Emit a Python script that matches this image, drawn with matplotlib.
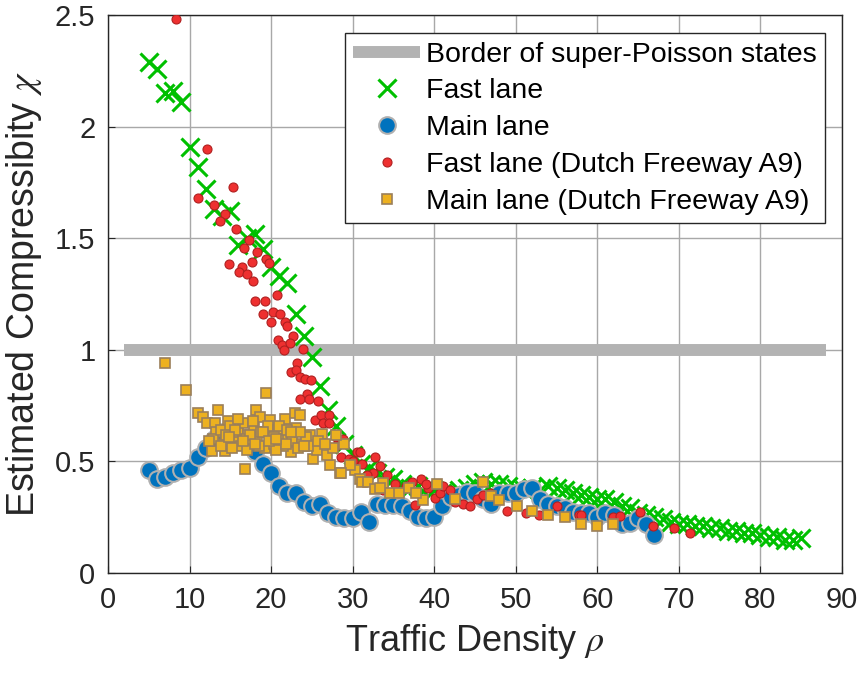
import matplotlib
matplotlib.use('Agg')
import matplotlib.pyplot as plt
from matplotlib.ticker import FormatStrFormatter

plt.rcParams['font.family'] = ['Liberation Sans', 'DejaVu Sans']
plt.rcParams['mathtext.fontset'] = 'stix'

# simulated fast lane
fast_x = list(range(5, 86))
fast_y = [2.29, 2.26, 2.15, 2.16, 2.11, 1.91, 1.82, 1.72, 1.63, 1.60,
          1.62, 1.47, 1.50, 1.52, 1.45, 1.37, 1.33, 1.30, 1.16, 1.06,
          0.97, 0.84, 0.73, 0.66, 0.58, 0.53, 0.49, 0.47, 0.45, 0.43,
          0.42, 0.40, 0.38, 0.39, 0.38, 0.37, 0.36, 0.35, 0.37, 0.38,
          0.40, 0.41, 0.40, 0.40, 0.39, 0.38, 0.37, 0.38, 0.37, 0.39,
          0.38, 0.37, 0.36, 0.35, 0.34, 0.33, 0.33, 0.32, 0.30, 0.29,
          0.27, 0.26, 0.25, 0.24, 0.23, 0.22, 0.22, 0.21, 0.21, 0.20,
          0.20, 0.19, 0.19, 0.18, 0.18, 0.17, 0.16, 0.16, 0.15, 0.15,
          0.155]

# simulated main lane
main_x = list(range(5, 68))
main_y = [0.46, 0.42, 0.43, 0.45, 0.46, 0.47, 0.52, 0.56, 0.60, 0.63,
          0.62, 0.60, 0.58, 0.54, 0.49, 0.45, 0.39, 0.36, 0.36, 0.32,
          0.30, 0.31, 0.27, 0.25, 0.245, 0.245, 0.275, 0.23, 0.31, 0.305,
          0.305, 0.30, 0.28, 0.25, 0.245, 0.25, 0.30, 0.34, 0.35, 0.365,
          0.36, 0.33, 0.31, 0.36, 0.36, 0.36, 0.375, 0.38, 0.33, 0.31,
          0.30, 0.29, 0.275, 0.27, 0.27, 0.25, 0.27, 0.26, 0.22, 0.225,
          0.245, 0.22, 0.17]

# A9 measurements, fast lane
a9_fast_x = [8.3, 12.2, 15.3, 11.0, 13.0, 14.3, 13.7, 15.7, 17.3, 16.7,
             18.3, 14.9, 16.4, 17.6, 19.4, 19.7, 16.1, 17.0, 17.8, 20.7,
             18.0, 19.2, 19.0, 20.2, 21.1, 20.0, 21.7, 22.0, 22.7, 20.9,
             21.3, 21.6, 22.3, 23.9, 23.2, 22.4, 23.0, 23.5, 24.1, 24.9,
             24.4, 23.6, 24.7, 25.7, 25.4, 26.1, 27.1, 26.4, 27.1, 28.0,
             28.8, 28.0, 28.6, 29.5, 30.1, 30.5, 30.9, 31.1, 32.7, 33.3,
             32.5, 31.7, 34.2, 35.2, 33.7, 36.6, 37.6, 38.4, 39.3, 40.1,
             40.7, 41.1, 41.9, 42.5, 43.5, 44.4, 45.2, 46.0, 37.3, 39.0,
             46.8, 48.9, 51.3, 52.9, 55.0, 57.8, 58.0, 61.9, 62.8, 65.2,
             66.8, 69.4, 71.4]
a9_fast_y = [2.48, 1.90, 1.73, 1.68, 1.65, 1.61, 1.575, 1.54, 1.49, 1.455,
             1.44, 1.385, 1.37, 1.395, 1.405, 1.39, 1.35, 1.34, 1.31, 1.245,
             1.22, 1.22, 1.16, 1.17, 1.16, 1.125, 1.125, 1.105, 1.06, 1.045,
             1.02, 1.00, 1.03, 1.005, 0.94, 0.90, 0.91, 0.88, 0.87, 0.865,
             0.80, 0.78, 0.78, 0.77, 0.685, 0.71, 0.71, 0.67, 0.67, 0.61,
             0.60, 0.57, 0.52, 0.51, 0.50, 0.54, 0.54, 0.49, 0.52, 0.48,
             0.45, 0.44, 0.44, 0.40, 0.37, 0.39, 0.305, 0.42, 0.38, 0.335,
             0.36, 0.39, 0.37, 0.32, 0.31, 0.30, 0.33, 0.35, 0.41, 0.40,
             0.36, 0.28, 0.27, 0.26, 0.30, 0.26, 0.26, 0.25, 0.255, 0.275,
             0.21, 0.20, 0.18]

# A9 measurements, main lane
a9_main_x = [7.0, 9.6, 19.4, 11.1, 11.7, 13.5, 12.1, 13.1, 14.7, 18.1,
             18.6, 19.9, 21.7, 22.9, 23.5, 16.8, 13.3, 12.7, 14.3, 22.5,
             25.2, 27.2, 28.4, 29.0, 28.0, 26.2, 24.8, 25.6, 26.8, 30.3,
             30.9, 12.9, 13.8, 14.2, 15.0, 15.4, 15.9, 16.3, 16.6, 17.2,
             17.5, 17.9, 18.3, 18.8, 19.2, 19.6, 20.1, 20.4, 20.8, 21.2,
             21.5, 22.1, 22.6, 23.1, 23.8, 24.3, 15.2, 16.0, 17.0, 17.8,
             19.0, 20.6, 21.0, 23.3, 24.5, 14.5, 16.9, 18.5, 20.3, 22.0,
             29.7, 28.6, 31.1, 31.9, 32.7, 33.7, 34.6, 35.7, 36.9, 38.6,
             40.3, 42.6, 46.0, 47.0, 48.0, 50.1, 52.0, 54.0, 56.0, 58.0,
             60.0, 61.9, 33.3, 37.8, 12.4, 13.9, 15.6, 17.4, 19.8, 21.8,
             23.6, 25.8, 27.6, 14.9, 16.5, 18.0, 20.6, 22.4, 24.0, 26.6]
a9_main_y = [0.94, 0.82, 0.805, 0.715, 0.70, 0.73, 0.67, 0.67, 0.68, 0.73,
             0.70, 0.685, 0.69, 0.715, 0.71, 0.465, 0.63, 0.545, 0.545, 0.54,
             0.51, 0.485, 0.45, 0.58, 0.62, 0.625, 0.62, 0.55, 0.53, 0.46,
             0.42, 0.60, 0.64, 0.58, 0.66, 0.61, 0.63, 0.57, 0.67, 0.62,
             0.59, 0.65, 0.60, 0.63, 0.56, 0.66, 0.61, 0.58, 0.64, 0.60,
             0.57, 0.62, 0.59, 0.65, 0.58, 0.61, 0.56, 0.69, 0.55, 0.68,
             0.63, 0.55, 0.66, 0.56, 0.57, 0.62, 0.60, 0.57, 0.61, 0.64,
             0.485, 0.45, 0.41, 0.41, 0.375, 0.405, 0.36, 0.36, 0.38, 0.325,
             0.40, 0.33, 0.41, 0.345, 0.325, 0.30, 0.28, 0.26, 0.25, 0.22,
             0.21, 0.22, 0.38, 0.36, 0.59, 0.57, 0.64, 0.62, 0.59, 0.58,
             0.63, 0.59, 0.56, 0.61, 0.59, 0.58, 0.60, 0.63, 0.57, 0.58]

border_x = [2, 88]
border_y = [1, 1]

fig = plt.figure(figsize=(8.61, 6.77), dpi=100)
ax = fig.add_axes([0.1254, 0.1536, 0.8525, 0.8242])

ax.plot(border_x, border_y, color='#b3b3b3', lw=8.6, solid_capstyle='butt',
        label='Border of super-Poisson states', zorder=2)
ax.plot(fast_x, fast_y, 'x', color='#00c000', ms=12.5, mew=2.2,
        label='Fast lane', zorder=3)
ax.plot(main_x, main_y, 'o', color='#0072bd', mec='#b0b0b0', mew=1.5, ms=12,
        label='Main lane', zorder=3)
ax.plot(a9_fast_x, a9_fast_y, 'o', color='#ee3030', mec='#b02020', mew=0.8,
        ms=6.5, label='Fast lane (Dutch Freeway A9)', zorder=4)
ax.plot(a9_main_x, a9_main_y, 's', color='#edb120', mec='#9b7f5a', mew=1.2,
        ms=7, label='Main lane (Dutch Freeway A9)', zorder=4)

ax.set_xlim(0, 90)
ax.set_ylim(0, 2.5)
ax.set_xticks(range(0, 91, 10))
ax.set_yticks([0, 0.5, 1, 1.5, 2, 2.5])
ax.yaxis.set_major_formatter(FormatStrFormatter('%g'))
ax.grid(True, color='#a8a8a8', lw=1)
ax.set_axisbelow(True)
ax.tick_params(direction='in', length=5, labelsize=21, colors='#262626',
               top=False, right=False, pad=9)
for s in ax.spines.values():
    s.set_color('#262626')
    s.set_linewidth(1)

ax.set_xlabel(r'Traffic Density $\rho$', fontsize=26, color='#262626',
              labelpad=6)
ax.set_ylabel(r'Estimated Compressibity $\chi$', fontsize=27,
              color='#262626', labelpad=8)

leg = ax.legend(loc='upper right', bbox_to_anchor=(0.9768, 0.9677),
                borderaxespad=0, fontsize=20.5, frameon=True, fancybox=False,
                edgecolor='#262626', framealpha=1, handlelength=2.35,
                labelspacing=0.38, borderpad=0.3, handletextpad=0.2)
leg.get_frame().set_linewidth(1)

fig.savefig('out.png', dpi=100)
